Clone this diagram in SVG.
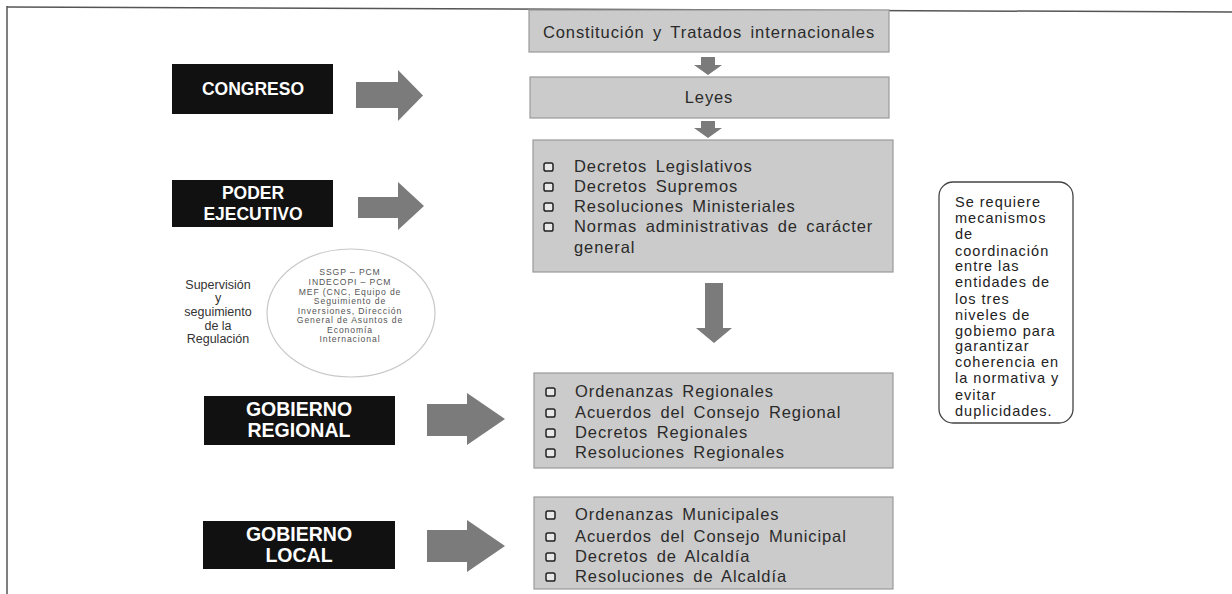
<svg xmlns="http://www.w3.org/2000/svg" width="1232" height="594" viewBox="0 0 1232 594">
<style>
.frame{stroke:#555;stroke-width:1.5;fill:none}
.blk{fill:#111}
.blkt{font-family:"Liberation Sans",Arial,sans-serif;font-weight:bold;fill:#fff;text-anchor:middle}
.box{fill:#cbcbcb;stroke:#9a9a9a;stroke-width:1.2}
.bt{font-family:"Liberation Sans",Arial,sans-serif;font-size:16.5px;fill:#2a2a2a;letter-spacing:0.9px;word-spacing:3px}
.chk{fill:#e8e8e8;stroke:#222;stroke-width:1.5}
.arr{fill:#7b7b7b}
.small{font-family:"Liberation Sans",Arial,sans-serif;font-size:8.6px;fill:#555;text-anchor:middle;letter-spacing:0.9px}
.sup{font-family:"Liberation Sans",Arial,sans-serif;font-size:12.5px;fill:#333;text-anchor:middle}
.note{font-family:"Liberation Sans",Arial,sans-serif;font-size:14.5px;fill:#222;letter-spacing:1px}
</style>
<defs>
<rect id="cb" width="9" height="8" rx="1.8"/>
</defs>
<rect width="1232" height="594" fill="#fff"/>
<line class="frame" x1="7" y1="7" x2="1232" y2="12"/>
<line class="frame" x1="7" y1="6" x2="7" y2="594"/>

<g id="constitucion">
<rect class="box" x="529" y="10" width="360" height="42"/>
<text class="bt" x="709" y="38" text-anchor="middle">Constitución y Tratados internacionales</text>
</g>
<g id="leyes">
<rect class="box" x="530" y="77" width="359" height="41"/>
<text class="bt" x="709" y="103" text-anchor="middle">Leyes</text>
</g>
<g id="decretos">
<rect class="box" x="533" y="140" width="360" height="132"/>
<use href="#cb" class="chk" x="544" y="163"/>
<use href="#cb" class="chk" x="544" y="183"/>
<use href="#cb" class="chk" x="544" y="203"/>
<use href="#cb" class="chk" x="544" y="223"/>
<text class="bt" x="574" y="172">Decretos Legislativos</text>
<text class="bt" x="574" y="192">Decretos Supremos</text>
<text class="bt" x="574" y="212">Resoluciones Ministeriales</text>
<text class="bt" x="574" y="232">Normas administrativas de carácter</text>
<text class="bt" x="574" y="253">general</text>
</g>
<g id="regionales">
<rect class="box" x="534" y="373" width="359" height="95"/>
<use href="#cb" class="chk" x="546" y="388"/>
<use href="#cb" class="chk" x="546" y="409"/>
<use href="#cb" class="chk" x="546" y="429"/>
<use href="#cb" class="chk" x="546" y="449"/>
<text class="bt" x="575" y="397">Ordenanzas Regionales</text>
<text class="bt" x="575" y="418">Acuerdos del Consejo Regional</text>
<text class="bt" x="575" y="438">Decretos Regionales</text>
<text class="bt" x="575" y="458">Resoluciones Regionales</text>
</g>
<g id="municipales">
<rect class="box" x="534" y="497" width="359" height="92"/>
<use href="#cb" class="chk" x="546" y="511"/>
<use href="#cb" class="chk" x="546" y="533"/>
<use href="#cb" class="chk" x="546" y="553"/>
<use href="#cb" class="chk" x="546" y="573"/>
<text class="bt" x="575" y="520">Ordenanzas Municipales</text>
<text class="bt" x="575" y="542">Acuerdos del Consejo Municipal</text>
<text class="bt" x="575" y="562">Decretos de Alcaldía</text>
<text class="bt" x="575" y="582">Resoluciones de Alcaldía</text>
</g>

<g id="congreso">
<rect class="blk" x="172" y="64" width="161" height="50"/>
<text class="blkt" x="253" y="95" font-size="17.5">CONGRESO</text>
</g>
<g id="poder-ejecutivo">
<rect class="blk" x="172" y="180" width="161" height="47"/>
<text class="blkt" x="253" y="199" font-size="17.5">PODER</text>
<text class="blkt" x="253" y="220" font-size="17.5">EJECUTIVO</text>
</g>
<g id="gobierno-regional">
<rect class="blk" x="204" y="396" width="191" height="49"/>
<text class="blkt" x="299" y="416" font-size="19.5">GOBIERNO</text>
<text class="blkt" x="299" y="437" font-size="19.5">REGIONAL</text>
</g>
<g id="gobierno-local">
<rect class="blk" x="203" y="521" width="192" height="48"/>
<text class="blkt" x="299" y="541" font-size="19.5">GOBIERNO</text>
<text class="blkt" x="299" y="562" font-size="19.5">LOCAL</text>
</g>

<g id="supervision">
<text class="sup" x="218" y="289">Supervisión</text>
<text class="sup" x="218" y="302">y</text>
<text class="sup" x="218" y="316">seguimiento</text>
<text class="sup" x="218" y="330">de la</text>
<text class="sup" x="218" y="343">Regulación</text>
</g>
<g id="entidades">
<ellipse cx="351" cy="313" rx="84" ry="64" fill="#fff" stroke="#c8c8c8" stroke-width="1.2"/>
<text class="small" x="350" y="275">SSGP – PCM</text>
<text class="small" x="350" y="285">INDECOPI – PCM</text>
<text class="small" x="350" y="294.5">MEF (CNC, Equipo de</text>
<text class="small" x="350" y="304">Seguimiento de</text>
<text class="small" x="350" y="313.5">Inversiones, Dirección</text>
<text class="small" x="350" y="323">General de Asuntos de</text>
<text class="small" x="350" y="332.5">Economía</text>
<text class="small" x="350" y="342">Internacional</text>
</g>
<g id="nota">
<rect x="939" y="182" width="134" height="241" rx="14" fill="#fff" stroke="#444" stroke-width="1.3"/>
<text class="note" x="955" y="207">Se requiere</text>
<text class="note" x="955" y="223">mecanismos</text>
<text class="note" x="955" y="239">de</text>
<text class="note" x="955" y="256">coordinación</text>
<text class="note" x="955" y="271">entre las</text>
<text class="note" x="955" y="287">entidades de</text>
<text class="note" x="955" y="304">los tres</text>
<text class="note" x="955" y="320">niveles de</text>
<text class="note" x="955" y="336">gobiemo para</text>
<text class="note" x="955" y="351">garantizar</text>
<text class="note" x="955" y="367">coherencia en</text>
<text class="note" x="955" y="383">la normativa y</text>
<text class="note" x="955" y="400">evitar</text>
<text class="note" x="955" y="416">duplicidades.</text>
</g>

<g id="connectors">
<path class="arr" d="M356,82 H398 V70 L423,95.5 L398,121 V108 H356 Z"/>
<path class="arr" d="M358,197 H398 V182 L424,206 L398,230 V218 H358 Z"/>
<path class="arr" d="M427,404 H467 V393 L505,419 L467,445 V436 H427 Z"/>
<path class="arr" d="M427,530 H467 V520 L505,546 L467,572 V562 H427 Z"/>
<path class="arr" d="M701,57 H715 V65 H722 L708,75 L694,65 H701 Z"/>
<path class="arr" d="M701,121 H715 V128 H722 L708,138 L694,128 H701 Z"/>
<path class="arr" d="M705,283 H723 V328 H732 L714,343 L696,328 H705 Z"/>
</g>
</svg>
